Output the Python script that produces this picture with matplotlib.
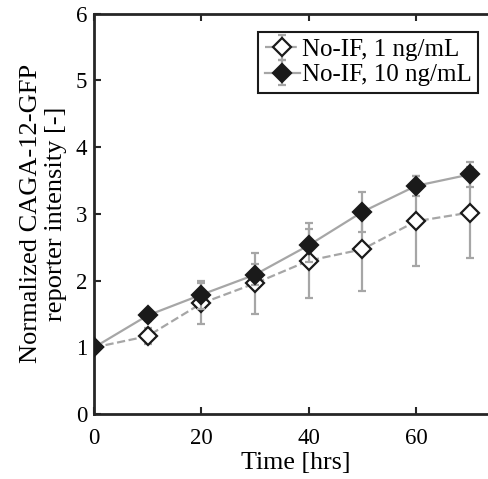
import numpy as np
import matplotlib
matplotlib.use('Agg')
import matplotlib.pyplot as plt

# time points and normalized reporter intensity
time_hrs = [0, 10, 20, 30, 40, 50, 60, 70]
low_mean = [1.0, 1.17, 1.66, 1.96, 2.30, 2.47, 2.89, 3.02]
low_err = [0.0, 0.12, 0.31, 0.46, 0.56, 0.62, 0.67, 0.68]
high_mean = [1.0, 1.48, 1.79, 2.09, 2.53, 3.03, 3.42, 3.59]
high_err = [0.0, 0.08, 0.21, 0.16, 0.25, 0.30, 0.15, 0.19]
labels = ['No-IF, 1 ng/mL', 'No-IF, 10 ng/mL']

plt.rcParams['font.family'] = ['Liberation Serif', 'DejaVu Serif']
plt.rcParams['mathtext.fontset'] = 'stix'

fig = plt.figure(figsize=(4.88, 4.79), dpi=100)
ax = fig.add_axes([0.1926, 0.1351, 0.825, 0.8367])

grey = '#a6a6a6'
ax.errorbar(time_hrs, low_mean, yerr=low_err, color=grey, ls='--', lw=1.6,
            marker='D', ms=9, mfc='white', mec='#1a1a1a', mew=1.6,
            ecolor=grey, elinewidth=1.6, capsize=3, capthick=1.6,
            label=labels[0], zorder=3)
ax.errorbar(time_hrs, high_mean, yerr=high_err, color=grey, ls='-', lw=1.6,
            marker='D', ms=9, mfc='#1a1a1a', mec='#1a1a1a', mew=1.6,
            ecolor=grey, elinewidth=1.6, capsize=3, capthick=1.6,
            label=labels[1], zorder=4)

ax.set_xlim(0, 75)
ax.set_ylim(0, 6)
ax.set_xticks([0, 20, 40, 60])
ax.set_yticks([0, 1, 2, 3, 4, 5, 6])
ax.tick_params(direction='in', length=5, width=1.5, top=True, right=True,
               labelsize=16.5, color='#262626')
ax.tick_params(axis='x', pad=10)
ax.tick_params(axis='y', pad=5)
for s in ax.spines.values():
    s.set_linewidth(2)
    s.set_color('#262626')

ax.set_xlabel('Time [hrs]', fontsize=18.7, labelpad=2)
ax.set_ylabel('Normalized CAGA-12-GFP\nreporter intensity [-]', fontsize=19,
              labelpad=6, linespacing=1.2)

leg = ax.legend(loc='upper right', bbox_to_anchor=(478 / 488, 1 - 32 / 479),
                bbox_transform=fig.transFigure, borderaxespad=0, fontsize=18,
                fancybox=False, framealpha=1, edgecolor='#1a1a1a',
                handlelength=1.4, handletextpad=0.1, borderpad=0.25,
                labelspacing=0.12)
leg.get_frame().set_linewidth(1.5)

fig.savefig('out.png', dpi=100)
